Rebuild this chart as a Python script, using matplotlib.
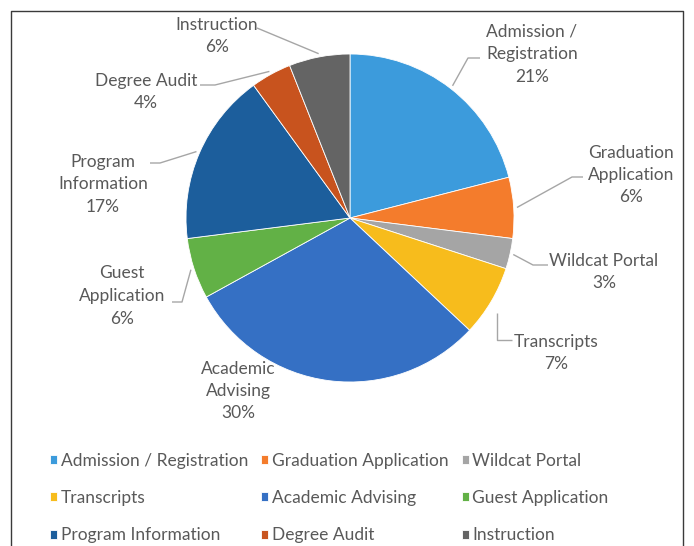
import matplotlib
matplotlib.use("Agg")
import matplotlib.pyplot as plt
import numpy as np

categories = ["Admission / Registration", "Graduation Application", "Wildcat Portal",
              "Transcripts", "Academic Advising", "Guest Application",
              "Program Information", "Degree Audit", "Instruction"]
values = [21, 6, 3, 7, 30, 6, 17, 4, 6]
label_lines = ["Admission /\nRegistration", "Graduation\nApplication", "Wildcat Portal",
               "Transcripts", "Academic\nAdvising", "Guest\nApplication",
               "Program\nInformation", "Degree Audit", "Instruction"]
colors = ["#3C9BDC", "#F47C2C", "#A5A5A5", "#F7BC1C", "#3570C4",
          "#62B146", "#1C5E9C", "#C8531E", "#646464"]

W, H = 694, 546
plt.rcParams['font.family'] = ['Lato', 'DejaVu Sans']
fig = plt.figure(figsize=(W / 100, H / 100), dpi=100)
ax = fig.add_axes([0, 0, 1, 1])

def P(px, py):
    return px, H - py

cx, cy = P(350, 218)
R = 164
wedges, _ = ax.pie(values, colors=colors, startangle=90, counterclock=False,
                   center=(cx, cy), radius=R,
                   wedgeprops=dict(edgecolor="white", linewidth=0.6))
ax.set_xlim(0, W)
ax.set_ylim(0, H)
ax.set_aspect('equal')
ax.axis('off')

# label layout (pixel positions of text centers, leader elbow/end points)
text_pos = [(532, 54), (631, 175), (604, 272), (556, 353), (238, 391),
            (122, 296), (103, 184), (146, 92), (217, 36)]
leader_pts = [
    [(480, 58), (468, 58)],
    [(583, 177), (572, 177)],
    [(548, 265), (533, 265)],
    [(512, 340), (497, 340)],
    None,
    [(172, 302), (182, 302)],
    [(150, 163), (160, 163)],
    [(200, 85), (215, 85)],
    [(257, 28)],
]

txtc = "#595959"
fs = 12.5
total = sum(values)
cum = 0
for i, v in enumerate(values):
    mid = 90 - (cum + v / 2) / total * 360
    cum += v
    pct = f"{round(v / total * 100)}%"
    tx, ty = P(*text_pos[i])
    ax.text(tx, ty, label_lines[i] + "\n" + pct, ha='center', va='center',
            fontsize=fs, color=txtc, linespacing=1.5)
    if leader_pts[i] is not None:
        ax_r = R * 1.02
        axx = cx + ax_r * np.cos(np.radians(mid))
        ayy = cy + ax_r * np.sin(np.radians(mid))
        xs = [P(*p)[0] for p in leader_pts[i]] + [axx]
        ys = [P(*p)[1] for p in leader_pts[i]] + [ayy]
        if i == 3:
            xs = [P(512, 340)[0], P(497, 340)[0], P(497, 340)[0]]
            ys = [P(512, 340)[1], P(497, 340)[1], P(497, 313)[1]]
        ax.plot(xs, ys, color="#A6A6A6", lw=1.0, solid_capstyle='butt')

# frame
ax.plot([11, 11, 683, 683], [0, H - 11, H - 11, 0], color="#3a3a3a", lw=1.0,
        clip_on=False)

order = [0, 3, 6, 1, 4, 7, 2, 5, 8]
leg = fig.legend([wedges[k] for k in order], [categories[k] for k in order],
                 ncol=3, loc='upper left',
                 bbox_to_anchor=(50 / W, (H - 453) / H),
                 frameon=False, fontsize=fs, labelcolor=txtc,
                 handlelength=0.42, handleheight=0.42, handletextpad=0.2,
                 columnspacing=0.75, labelspacing=1.22,
                 borderpad=0, borderaxespad=0)

fig.savefig("out.png", dpi=100, facecolor="white")
